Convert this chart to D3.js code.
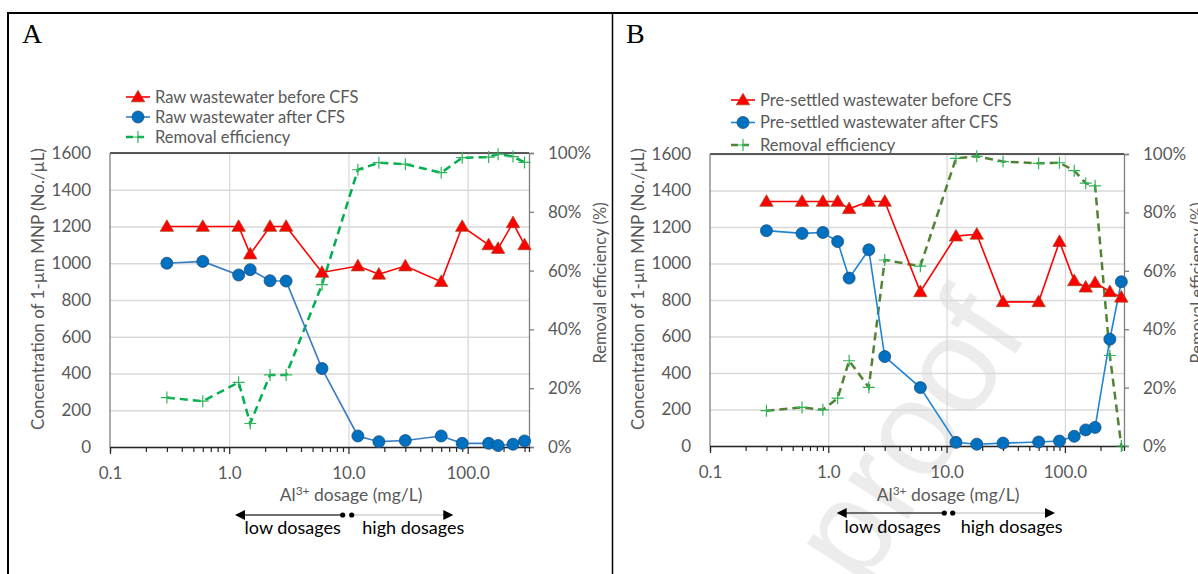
<!DOCTYPE html>
<html>
<head>
<meta charset="utf-8">
<script src="https://cdn.jsdelivr.net/npm/d3@7"></script>
<style>
  body { margin: 0; background: #fff; }
  svg { display: block; }
  text { font-family: Lato, "Noto Sans", sans-serif; }
</style>
</head>
<body>
<div id="chart"></div>
<script>
// Panel A: raw wastewater
var doseA = [0.3, 0.6, 1.2, 1.5, 2.2, 3, 6, 12, 18, 30, 60, 90, 150, 180, 240, 300];
var rawBefore = [1200, 1200, 1200, 1050, 1200, 1200, 950, 985, 940, 985, 900, 1200, 1100, 1080, 1220, 1100];
var rawAfter = [1000, 1010, 936, 965, 905, 903, 427, 60, 29, 35, 60, 20, 20, 8, 15, 33];
var rawEff = [16.8, 15.6, 22, 8, 24.5, 24.5, 55.2, 94.3, 96.7, 96.2, 93.3, 98.4, 98.6, 99.6, 98.8, 96.8];

// Panel B: pre-settled wastewater
var doseB = [0.3, 0.6, 0.9, 1.2, 1.5, 2.2, 3, 6, 12, 18, 30, 60, 90, 120, 150, 180, 240, 300];
var preBefore = [1340, 1340, 1340, 1340, 1300, 1340, 1340, 845, 1150, 1160, 790, 790, 1120, 905, 870, 895, 845, 815];
var preAfter = [1180, 1165, 1170, 1120, 920, 1075, 490, 320, 20, 10, 16, 22, 27, 53, 88, 102, 585, 900];
var preEff = [12.1, 13.2, 12.4, 16.4, 29.2, 20.1, 63.7, 61.6, 98.5, 99.2, 97.4, 96.8, 97, 94.3, 90, 89.1, 31, 0];

var xMajor = [0.1, 1, 10, 100];
var yTicks = [0, 200, 400, 600, 800, 1000, 1200, 1400, 1600];
var pctTicks = [0, 20, 40, 60, 80, 100];

var width = 1198, height = 574;
var grey = "#595959";

var svg = d3.select("#chart").append("svg")
    .attr("width", width)
    .attr("height", height);

// frame of the figure table
svg.append("line").attr("x1", 7).attr("x2", width).attr("y1", 13).attr("y2", 13)
    .attr("stroke", "#000").attr("stroke-width", 2);
svg.append("line").attr("x1", 8).attr("x2", 8).attr("y1", 13).attr("y2", height)
    .attr("stroke", "#000").attr("stroke-width", 2);
svg.append("line").attr("x1", 612.5).attr("x2", 612.5).attr("y1", 13).attr("y2", height)
    .attr("stroke", "#000").attr("stroke-width", 1.5);

// watermark
svg.append("text")
    .attr("transform", "translate(862,590) rotate(-57)")
    .style("font-family", "'Liberation Sans', Arial, sans-serif")
    .style("font-size", "135px")
    .attr("fill", "#ececec")
    .text("proof");

var panels = [
  {
    label: "A", lx: 22, left: 110, right: 529, top: 153, bottom: 447, xmax: 327,
    dose: doseA, before: rawBefore, after: rawAfter, eff: rawEff,
    names: ["Raw wastewater before CFS", "Raw wastewater after CFS", "Removal efficiency"],
    legX: 126, legY: [97, 117, 137],
    blue: "#3a7dc5", effLine: "#00b050",
    yTitleX: 38, y2TitleX: 600,
    arrowY: 515, arrowL: 235, dotL: 342.7, dotR: 351.7, arrowR: 453.3,
    lowX: 292.7, highX: 413.3, textY: 534, clipY: 537, titleX: 351
  },
  {
    label: "B", lx: 626, left: 710, right: 1124, top: 154, bottom: 446, xmax: 316,
    dose: doseB, before: preBefore, after: preAfter, eff: preEff,
    names: ["Pre-settled wastewater before CFS", "Pre-settled wastewater after CFS", "Removal efficiency"],
    legX: 731, legY: [100, 122.5, 145],
    blue: "#1f84d4", effLine: "#548235",
    yTitleX: 638, y2TitleX: 1197,
    arrowY: 513, arrowL: 836.7, dotL: 944.3, dotR: 952.7, arrowR: 1055,
    lowX: 892.7, highX: 1011.7, textY: 532.5, clipY: 574, titleX: 948
  }
];

var triangle = d3.symbol().type(d3.symbolTriangle).size(78);

panels.forEach(function(p, pi) {
  var x = d3.scaleLog().domain([0.1, p.xmax]).range([p.left, p.right]);
  var y = d3.scaleLinear().domain([0, 1600]).range([p.bottom, p.top]);
  var y2 = d3.scaleLinear().domain([0, 100]).range([p.bottom, p.top]);
  var w = p.right - p.left;

  var g = svg.append("g");

  g.append("text")
      .attr("x", p.lx).attr("y", 43)
      .style("font-family", "'Liberation Serif', 'DejaVu Serif', serif")
      .style("font-size", "28px")
      .attr("fill", "#000")
      .text(p.label);

  // horizontal grid
  g.append("g")
      .attr("transform", "translate(" + p.left + ",0)")
      .call(d3.axisLeft(y).tickValues(yTicks).tickSize(-w).tickFormat(""))
      .call(function(s) {
        s.select(".domain").remove();
        s.selectAll("line").attr("stroke", "#d9d9d9").attr("stroke-width", 1.3);
      });

  // vertical grid at decades
  g.append("g")
      .attr("transform", "translate(0," + p.bottom + ")")
      .call(d3.axisBottom(x).tickValues([1, 10, 100]).tickSize(-(p.bottom - p.top)).tickFormat(""))
      .call(function(s) {
        s.select(".domain").remove();
        s.selectAll("line").attr("stroke", "#d9d9d9").attr("stroke-width", 1.3);
      });

  // plot borders
  g.append("line").attr("x1", p.left).attr("x2", p.right).attr("y1", p.top).attr("y2", p.top)
      .attr("stroke", "#262626").attr("stroke-width", 1.3);
  g.append("line").attr("x1", p.left).attr("x2", p.left).attr("y1", p.top).attr("y2", p.bottom)
      .attr("stroke", "#7f7f7f").attr("stroke-width", 1.3);

  // left axis labels
  g.append("g")
      .attr("transform", "translate(" + p.left + ",0)")
      .call(d3.axisLeft(y).tickValues(yTicks).tickSize(0).tickPadding(19).tickFormat(d3.format("d")))
      .call(function(s) {
        s.select(".domain").remove();
        s.selectAll("text").attr("fill", grey).style("font-size", "17px").style("font-family", "Lato, sans-serif");
      });

  // right axis
  g.append("g")
      .attr("transform", "translate(" + p.right + ",0)")
      .call(d3.axisRight(y2).tickValues(pctTicks).tickSize(5).tickPadding(14)
          .tickFormat(function(d) { return d + "%"; }))
      .call(function(s) {
        s.select(".domain").attr("stroke", "#7f7f7f").attr("stroke-width", 1.3);
        s.selectAll("line").attr("stroke", "#7f7f7f").attr("stroke-width", 1.3);
        s.selectAll("text").attr("fill", grey).style("font-size", "17px").style("font-family", "Lato, sans-serif");
      });

  // x axis minor ticks
  var minor = [];
  [0.1, 1, 10, 100].forEach(function(dec) {
    for (var k = 2; k <= 9; k++) if (dec * k <= p.xmax) minor.push(dec * k);
  });
  g.append("g")
      .attr("transform", "translate(0," + p.bottom + ")")
      .call(d3.axisBottom(x).tickValues(minor).tickSize(5).tickFormat(""))
      .call(function(s) {
        s.select(".domain").attr("stroke", "#262626").attr("stroke-width", 1.3);
        s.selectAll("line").attr("stroke", "#262626").attr("stroke-width", 1.2);
      });
  g.append("g")
      .attr("transform", "translate(0," + p.bottom + ")")
      .call(d3.axisBottom(x).tickValues(xMajor).tickSize(7).tickPadding(13).tickFormat(d3.format(".1f")))
      .call(function(s) {
        s.select(".domain").remove();
        s.selectAll("line").attr("stroke", "#262626").attr("stroke-width", 1.2);
        s.selectAll("text").attr("fill", grey).style("font-size", "17px").style("font-family", "Lato, sans-serif");
      });

  // axis titles
  var xt = g.append("text")
      .attr("x", p.titleX).attr("y", 501)
      .attr("text-anchor", "middle")
      .attr("fill", grey)
      .style("font-size", "17.5px");
  xt.append("tspan").text("Al");
  xt.append("tspan").attr("dy", -6).style("font-size", "12px").text("3+");
  xt.append("tspan").attr("dy", 6).text(" dosage (mg/L)");

  g.append("text")
      .attr("transform", "translate(" + p.yTitleX + "," + ((p.top + p.bottom) / 2 - 11) + ") rotate(-90)")
      .attr("text-anchor", "middle")
      .attr("dy", "0.35em")
      .attr("fill", grey)
      .style("font-size", "17px")
      .text("Concentration of 1-\u00b5m MNP (No./\u00b5L)");

  g.append("text")
      .attr("transform", "translate(" + p.y2TitleX + "," + ((p.top + p.bottom) / 2 - 17) + ") rotate(-90)")
      .attr("text-anchor", "middle")
      .attr("dy", "0.35em")
      .attr("fill", grey)
      .style("font-size", "16.5px")
      .text("Removal efficiency (%)");

  // series
  var effLine = d3.line().x(function(d, i) { return x(p.dose[i]); }).y(function(d) { return y2(d); });
  var cLine = d3.line().x(function(d, i) { return x(p.dose[i]); }).y(function(d) { return y(d); });

  g.append("path").datum(p.eff)
      .attr("d", effLine)
      .attr("fill", "none")
      .attr("stroke", p.effLine)
      .attr("stroke-width", 2.5)
      .attr("stroke-dasharray", "8,5");
  g.selectAll(".plus").data(p.eff).enter().append("path")
      .attr("d", "M-6,0H6M0,-6V6")
      .attr("transform", function(d, i) { return "translate(" + x(p.dose[i]) + "," + y2(d) + ")"; })
      .attr("stroke", "#2fb45a")
      .attr("stroke-width", 1.2);

  g.append("path").datum(p.after)
      .attr("d", cLine)
      .attr("fill", "none")
      .attr("stroke", p.blue)
      .attr("stroke-width", 1.6);
  g.selectAll(".dot").data(p.after).enter().append("circle")
      .attr("cx", function(d, i) { return x(p.dose[i]); })
      .attr("cy", function(d) { return y(d); })
      .attr("r", 6)
      .attr("fill", "#0070c0")
      .attr("stroke", "#1f4e79")
      .attr("stroke-width", 0.8);

  g.append("path").datum(p.before)
      .attr("d", cLine)
      .attr("fill", "none")
      .attr("stroke", "#ff0000")
      .attr("stroke-width", 1.6);
  g.selectAll(".tri").data(p.before).enter().append("path")
      .attr("d", triangle)
      .attr("transform", function(d, i) { return "translate(" + x(p.dose[i]) + "," + (y(d) + 1) + ")"; })
      .attr("fill", "#ff0000")
      .attr("stroke", "#a0461c")
      .attr("stroke-width", 0.7);

  // legend
  var leg = g.append("g");
  p.names.forEach(function(name, i) {
    var ly = p.legY[i];
    var row = leg.append("g");
    if (i === 2) {
      row.append("line").attr("x1", p.legX).attr("x2", p.legX + 22).attr("y1", ly).attr("y2", ly)
          .attr("stroke", p.effLine).attr("stroke-width", 2.5).attr("stroke-dasharray", "7,4");
      row.append("path").attr("d", "M-6,0H6M0,-6V6")
          .attr("transform", "translate(" + (p.legX + 12) + "," + ly + ")")
          .attr("stroke", "#2fb45a").attr("stroke-width", 1.2);
    } else {
      row.append("line").attr("x1", p.legX).attr("x2", p.legX + 24).attr("y1", ly).attr("y2", ly)
          .attr("stroke", i === 0 ? "#ff0000" : p.blue).attr("stroke-width", 1.6);
      if (i === 0) {
        row.append("path").attr("d", triangle)
            .attr("transform", "translate(" + (p.legX + 12) + "," + (ly + 1) + ")")
            .attr("fill", "#ff0000").attr("stroke", "#a0461c").attr("stroke-width", 0.7);
      } else {
        row.append("circle").attr("cx", p.legX + 12).attr("cy", ly).attr("r", 6)
            .attr("fill", "#0070c0").attr("stroke", "#1f4e79").attr("stroke-width", 0.8);
      }
    }
    row.append("text")
        .attr("x", p.legX + 29).attr("y", ly)
        .attr("dy", "0.35em")
        .attr("fill", grey)
        .style("font-size", "16.5px")
        .text(name);
  });

  // dosage arrows
  var ar = g.append("g");
  ar.append("line").attr("x1", p.arrowL + 8).attr("x2", p.dotL).attr("y1", p.arrowY).attr("y2", p.arrowY)
      .attr("stroke", "#404040").attr("stroke-width", 1.5);
  ar.append("line").attr("x1", p.dotR).attr("x2", p.arrowR - 8).attr("y1", p.arrowY).attr("y2", p.arrowY)
      .attr("stroke", "#d0d0d0").attr("stroke-width", 1.5);
  ar.append("path")
      .attr("d", "M" + p.arrowL + "," + p.arrowY + "l10,-5v10z")
      .attr("fill", "#000");
  ar.append("path")
      .attr("d", "M" + p.arrowR + "," + p.arrowY + "l-10,-5v10z")
      .attr("fill", "#000");
  ar.append("circle").attr("cx", p.dotL).attr("cy", p.arrowY).attr("r", 2.6).attr("fill", "#000");
  ar.append("circle").attr("cx", p.dotR).attr("cy", p.arrowY).attr("r", 2.6).attr("fill", "#000");

  var clipId = "clip" + pi;
  svg.append("clipPath").attr("id", clipId)
    .append("rect").attr("x", 0).attr("y", 0).attr("width", width).attr("height", p.clipY);
  var tg = g.append("g").attr("clip-path", "url(#" + clipId + ")");
  tg.append("text").attr("x", p.lowX).attr("y", p.textY)
      .attr("text-anchor", "middle").attr("fill", "#000").style("font-size", "18px")
      .text("low dosages");
  tg.append("text").attr("x", p.highX).attr("y", p.textY)
      .attr("text-anchor", "middle").attr("fill", "#000").style("font-size", "18px")
      .text("high dosages");
});
</script>
</body>
</html>
